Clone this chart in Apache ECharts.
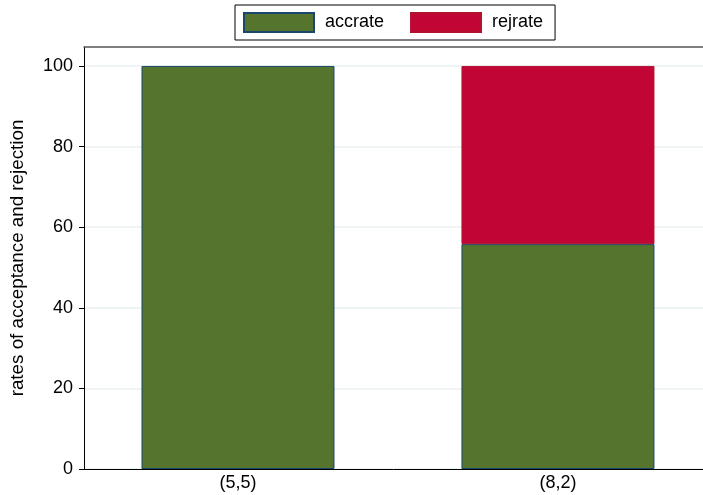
<!DOCTYPE html>
<html>
<head>
<meta charset="utf-8">
<script src="https://cdn.jsdelivr.net/npm/echarts@6/dist/echarts.min.js"></script>
<style>html,body{margin:0;padding:0;background:#fff;}#c{width:703px;height:495px;}</style>
</head>
<body>
<div id="c"></div>
<script>
const categories = ['(5,5)', '(8,2)'];
const catPos = [1, 2];
const accrate = [100, 55.8];
const rejrate = [null, 44.2];
const yTicks = [0, 20, 40, 60, 80, 100];

const FONT = '"Liberation Sans", Arial, sans-serif';
const chart = echarts.init(document.getElementById('c'));
chart.setOption({
  animation: false,
  backgroundColor: '#fff',
  textStyle: { fontFamily: FONT },
  legend: {
    top: 5, left: 235,
    data: ['accrate', 'rejrate'],
    icon: 'rect',
    itemWidth: 70, itemHeight: 19, itemGap: 26,
    padding: [7, 12, 7, 8],
    borderColor: '#000', borderWidth: 1,
    textStyle: { fontSize: 18, color: '#000', fontFamily: FONT, padding: [0, 0, 0, 6] }
  },
  grid: { left: 82, right: 0, top: 47, bottom: 26, containLabel: false },
  xAxis: [{
    type: 'value', min: 0.5187, max: 2.4533,
    axisLine: { show: true, onZero: false, lineStyle: { color: '#000', width: 1 } },
    axisTick: { show: false },
    splitLine: { show: false },
    axisLabel: {
      customValues: catPos,
      formatter: v => categories[catPos.indexOf(v)] || '',
      color: '#000', fontSize: 18, margin: 5, fontFamily: FONT
    }
  }, {
    type: 'value', position: 'top', min: 0.5187, max: 2.4533,
    axisLine: { show: true, onZero: false, lineStyle: { color: '#555', width: 1.5 } },
    axisTick: { show: false }, axisLabel: { show: false }, splitLine: { show: false }
  }],
  yAxis: {
    type: 'value', min: 0, max: 104.7,
    name: 'rates of acceptance and rejection',
    nameLocation: 'middle', nameGap: 57, nameRotate: 90,
    nameTextStyle: { fontSize: 18.8, color: '#000', fontFamily: FONT },
    axisLine: { show: true, lineStyle: { color: '#000', width: 1 } },
    axisTick: { show: true, length: 5, customValues: yTicks, lineStyle: { color: '#000' } },
    axisLabel: { customValues: yTicks, color: '#000', fontSize: 18, margin: 11, fontFamily: FONT },
    splitLine: { show: true, lineStyle: { color: '#e8f0f1', width: 1.5 } }
  },
  series: [{
    name: 'accrate', type: 'bar', stack: 's', barWidth: 193,
    encode: { x: 1, y: 0 },
    itemStyle: { color: '#55752f', borderColor: '#1a476f', borderWidth: 1 },
    data: catPos.map((x, i) => [accrate[i], x])
  }, {
    name: 'rejrate', type: 'bar', stack: 's', barWidth: 193,
    encode: { x: 1, y: 0 },
    itemStyle: { color: '#c10534', borderColor: '#b0122f', borderWidth: 1 },
    data: catPos.map((x, i) => [rejrate[i], x])
  }]
});
</script>
</body>
</html>
